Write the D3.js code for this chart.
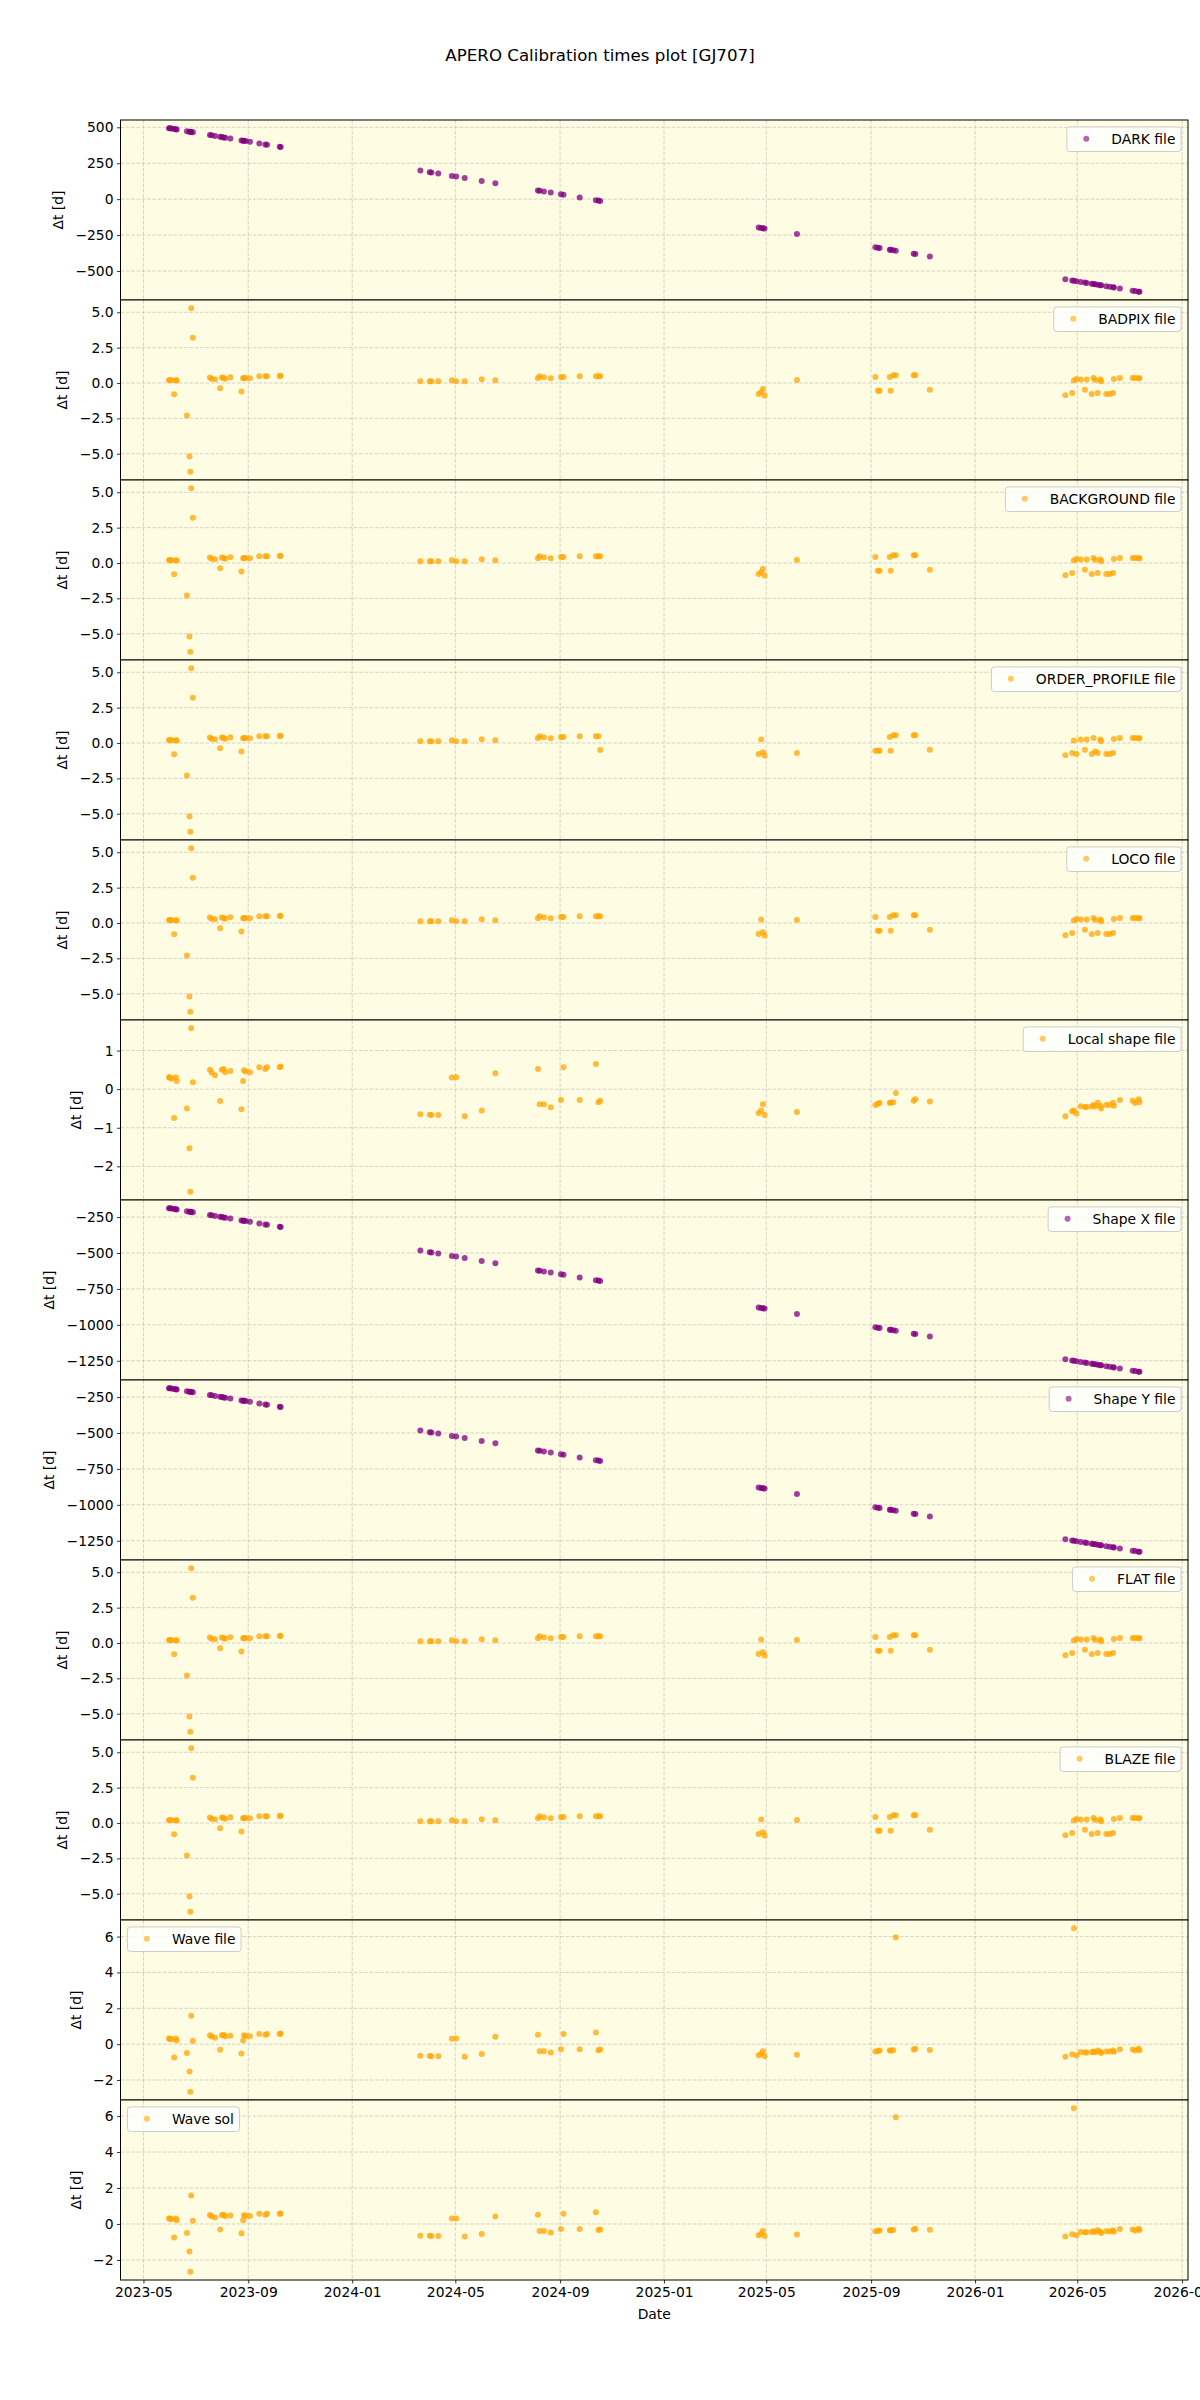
<!DOCTYPE html>
<html><head><meta charset="utf-8">
<script src="https://cdn.jsdelivr.net/npm/d3@7"></script>
<style>
body{margin:0;background:#fff}
svg text{font-family:"DejaVu Sans",sans-serif;fill:#000}
</style>
</head><body>
<svg id="chart" width="1200" height="2400"></svg>
<script>
const chartTitle = "APERO Calibration times plot [GJ707]";
const obsDates = ["2023-05-31","2023-06-01","2023-06-03","2023-06-06","2023-06-08","2023-06-09","2023-06-21","2023-06-24","2023-06-25","2023-06-26","2023-06-28",
"2023-07-18","2023-07-20","2023-07-24","2023-07-30","2023-08-01","2023-08-03","2023-08-05","2023-08-11","2023-08-24","2023-08-26","2023-08-27","2023-08-29","2023-09-03","2023-09-14","2023-09-21","2023-09-23","2023-10-08","2023-10-09",
"2024-03-21","2024-04-01","2024-04-03","2024-04-11","2024-04-27","2024-05-02","2024-05-12","2024-06-01","2024-06-17",
"2024-08-06","2024-08-08","2024-08-13","2024-08-21","2024-09-02","2024-09-05","2024-09-24","2024-10-13","2024-10-16","2024-10-18",
"2025-04-22","2025-04-25","2025-04-27","2025-04-29","2025-06-06",
"2025-09-06","2025-09-09","2025-09-11","2025-09-23","2025-09-24","2025-09-27","2025-09-30","2025-10-21","2025-10-23","2025-11-09",
"2026-04-17","2026-04-25","2026-04-27","2026-04-30","2026-05-05","2026-05-10","2026-05-12","2026-05-18","2026-05-20","2026-05-22","2026-05-25","2026-05-28","2026-05-29","2026-06-04","2026-06-08","2026-06-12","2026-06-13","2026-06-20","2026-07-05","2026-07-08","2026-07-12","2026-07-13"];

const darkValues = [494,493,491,488,486,485,473,470,469,468,466,
446,444,440,434,432,430,428,422,409,407,406,404,399,388,381,379,364,363,
199,188,186,178,162,157,147,127,111,
61,59,54,46,34,31,12,-7,-10,-12,
-198,-201,-203,-205,-243,
-335,-338,-340,-352,-353,-356,-359,-380,-382,-399,
-558,-566,-568,-571,-576,-581,-583,-589,-591,-593,-596,-599,-600,-606,-610,-614,-615,-622,-637,-640,-644,-645];

const badpixValues = [0.20,0.22,0.20,-0.80,0.20,0.18,-2.30,-5.20,-6.28,5.29,3.20,
0.38,0.30,0.26,-0.38,0.38,0.35,0.30,0.40,-0.60,0.33,0.36,0.35,0.33,0.47,0.47,0.48,0.50,0.52,
0.12,0.12,0.12,0.12,0.19,0.12,0.12,0.26,0.19,
0.33,0.47,0.40,0.33,0.42,0.42,0.47,0.47,0.47,0.47,
-0.78,-0.65,-0.43,-0.88,0.21,
0.43,-0.55,-0.55,0.43,-0.55,0.55,0.55,0.55,0.55,-0.48,
-0.86,-0.71,0.17,0.29,0.24,-0.48,0.24,-0.78,0.36,0.21,-0.71,0.24,0.12,-0.78,-0.78,-0.71,0.29,0.36,0.36,0.36,0.33,0.33];

const backgroundValues = [0.20,0.22,0.20,-0.80,0.20,0.18,-2.30,-5.20,-6.28,5.29,3.20,
0.38,0.30,0.26,-0.38,0.38,0.35,0.30,0.40,-0.60,0.33,0.36,0.35,0.33,0.47,0.47,0.48,0.50,0.52,
0.12,0.12,0.12,0.12,0.19,0.12,0.12,0.26,0.19,
0.33,0.47,0.40,0.33,0.42,0.42,0.47,0.47,0.47,0.47,
-0.78,-0.65,-0.43,-0.88,0.21,
0.43,-0.55,-0.55,0.43,-0.55,0.55,0.55,0.55,0.55,-0.48,
-0.86,-0.71,0.17,0.29,0.24,-0.48,0.24,-0.78,0.36,0.21,-0.71,0.24,0.12,-0.78,-0.78,-0.71,0.29,0.36,0.36,0.36,0.33,0.33];

const orderProfileValues = [0.20,0.22,0.20,-0.80,0.20,0.18,-2.30,-5.20,-6.28,5.29,3.20,
0.38,0.30,0.26,-0.38,0.38,0.35,0.30,0.40,-0.60,0.33,0.36,0.35,0.33,0.47,0.47,0.48,0.50,0.52,
0.12,0.12,0.12,0.12,0.19,0.12,0.12,0.26,0.19,
0.33,0.47,0.40,0.33,0.42,0.42,0.47,0.47,0.47,-0.50,
-0.78,0.25,-0.65,-0.88,-0.70,
-0.55,-0.55,-0.55,0.43,-0.55,0.55,0.55,0.55,0.55,-0.48,
-0.86,-0.71,0.17,-0.78,0.24,-0.48,0.24,-0.78,0.36,-0.60,-0.71,0.24,0.12,-0.78,-0.78,-0.71,0.29,0.36,0.36,0.36,0.33,0.33];

const locoValues = [0.20,0.22,0.20,-0.80,0.20,0.18,-2.30,-5.20,-6.28,5.29,3.20,
0.38,0.30,0.26,-0.38,0.38,0.35,0.30,0.40,-0.60,0.33,0.36,0.35,0.33,0.47,0.47,0.48,0.50,0.52,
0.12,0.12,0.12,0.12,0.19,0.12,0.12,0.26,0.19,
0.33,0.47,0.40,0.33,0.42,0.42,0.47,0.47,0.47,0.47,
-0.78,0.25,-0.65,-0.88,0.21,
0.43,-0.55,-0.55,0.43,-0.55,0.55,0.55,0.55,0.55,-0.48,
-0.86,-0.71,0.17,0.29,0.24,-0.48,0.24,-0.78,0.36,0.21,-0.71,0.24,0.12,-0.78,-0.78,-0.71,0.29,0.36,0.36,0.36,0.33,0.33];

const localShapeValues = [0.31,0.30,0.27,-0.75,0.31,0.21,-0.50,-1.53,-2.66,1.58,0.18,
0.50,0.43,0.36,-0.31,0.50,0.52,0.44,0.47,-0.52,0.21,0.49,0.46,0.44,0.57,0.52,0.57,0.57,0.59,
-0.65,-0.66,-0.67,-0.67,0.30,0.31,-0.70,-0.55,0.41,
0.52,-0.39,-0.39,-0.47,-0.28,0.57,-0.28,0.65,-0.34,-0.30,
-0.62,-0.55,-0.39,-0.67,-0.59,
-0.41,-0.38,-0.36,-0.35,-0.35,-0.34,-0.10,-0.30,-0.26,-0.32,
-0.70,-0.57,-0.55,-0.63,-0.44,-0.46,-0.46,-0.45,-0.41,-0.45,-0.35,-0.43,-0.50,-0.41,-0.41,-0.35,-0.43,-0.28,-0.30,-0.36,-0.26,-0.34];

const shapeXValues = [-188,-189,-191,-194,-196,-197,-209,-212,-213,-214,-216,
-236,-238,-242,-248,-250,-252,-254,-260,-273,-275,-276,-278,-283,-294,-301,-303,-318,-319,
-483,-494,-496,-504,-520,-525,-535,-555,-571,
-621,-623,-628,-636,-648,-651,-670,-689,-692,-694,
-880,-883,-885,-887,-925,
-1017,-1020,-1022,-1034,-1035,-1038,-1041,-1062,-1064,-1081,
-1240,-1248,-1250,-1253,-1258,-1263,-1265,-1271,-1273,-1275,-1278,-1281,-1282,-1288,-1292,-1296,-1297,-1304,-1319,-1322,-1326,-1327];

const shapeYValues = [-188,-189,-191,-194,-196,-197,-209,-212,-213,-214,-216,
-236,-238,-242,-248,-250,-252,-254,-260,-273,-275,-276,-278,-283,-294,-301,-303,-318,-319,
-483,-494,-496,-504,-520,-525,-535,-555,-571,
-621,-623,-628,-636,-648,-651,-670,-689,-692,-694,
-880,-883,-885,-887,-925,
-1017,-1020,-1022,-1034,-1035,-1038,-1041,-1062,-1064,-1081,
-1240,-1248,-1250,-1253,-1258,-1263,-1265,-1271,-1273,-1275,-1278,-1281,-1282,-1288,-1292,-1296,-1297,-1304,-1319,-1322,-1326,-1327];

const flatValues = [0.20,0.22,0.20,-0.80,0.20,0.18,-2.30,-5.20,-6.28,5.29,3.20,
0.38,0.30,0.26,-0.38,0.38,0.35,0.30,0.40,-0.60,0.33,0.36,0.35,0.33,0.47,0.47,0.48,0.50,0.52,
0.12,0.12,0.12,0.12,0.19,0.12,0.12,0.26,0.19,
0.33,0.47,0.40,0.33,0.42,0.42,0.47,0.47,0.47,0.47,
-0.78,0.25,-0.65,-0.88,0.21,
0.43,-0.55,-0.55,0.43,-0.55,0.55,0.55,0.55,0.55,-0.48,
-0.86,-0.71,0.17,0.29,0.24,-0.48,0.24,-0.78,0.36,0.21,-0.71,0.24,0.12,-0.78,-0.78,-0.71,0.29,0.36,0.36,0.36,0.33,0.33];

const blazeValues = [0.20,0.22,0.20,-0.80,0.20,0.18,-2.30,-5.20,-6.28,5.29,3.20,
0.38,0.30,0.26,-0.38,0.38,0.35,0.30,0.40,-0.60,0.33,0.36,0.35,0.33,0.47,0.47,0.48,0.50,0.52,
0.12,0.12,0.12,0.12,0.19,0.12,0.12,0.26,0.19,
0.33,0.47,0.40,0.33,0.42,0.42,0.47,0.47,0.47,0.47,
-0.78,0.25,-0.65,-0.88,0.21,
0.43,-0.55,-0.55,0.43,-0.55,0.55,0.55,0.55,0.55,-0.48,
-0.86,-0.71,0.17,0.29,0.24,-0.48,0.24,-0.78,0.36,0.21,-0.71,0.24,0.12,-0.78,-0.78,-0.71,0.29,0.36,0.36,0.36,0.33,0.33];

const waveFileValues = [0.31,0.30,0.27,-0.75,0.31,0.21,-0.50,-1.53,-2.66,1.58,0.18,
0.50,0.43,0.36,-0.31,0.50,0.52,0.44,0.47,-0.52,0.21,0.49,0.46,0.44,0.57,0.52,0.57,0.57,0.59,
-0.65,-0.66,-0.67,-0.67,0.30,0.31,-0.70,-0.55,0.41,
0.52,-0.39,-0.39,-0.47,-0.28,0.57,-0.28,0.65,-0.34,-0.30,
-0.62,-0.55,-0.39,-0.67,-0.59,
-0.41,-0.38,-0.36,-0.35,-0.35,-0.34,5.96,-0.30,-0.26,-0.32,
-0.70,-0.57,6.47,-0.63,-0.44,-0.46,-0.46,-0.45,-0.41,-0.45,-0.35,-0.43,-0.50,-0.41,-0.41,-0.35,-0.43,-0.28,-0.30,-0.36,-0.26,-0.34];

const waveSolValues = [0.31,0.30,0.27,-0.75,0.31,0.21,-0.50,-1.53,-2.66,1.58,0.18,
0.50,0.43,0.36,-0.31,0.50,0.52,0.44,0.47,-0.52,0.21,0.49,0.46,0.44,0.57,0.52,0.57,0.57,0.59,
-0.65,-0.66,-0.67,-0.67,0.30,0.31,-0.70,-0.55,0.41,
0.52,-0.39,-0.39,-0.47,-0.28,0.57,-0.28,0.65,-0.34,-0.30,
-0.62,-0.55,-0.39,-0.67,-0.59,
-0.41,-0.38,-0.36,-0.35,-0.35,-0.34,5.94,-0.30,-0.26,-0.32,
-0.70,-0.57,6.44,-0.63,-0.44,-0.46,-0.46,-0.45,-0.41,-0.45,-0.35,-0.43,-0.50,-0.41,-0.41,-0.35,-0.43,-0.28,-0.30,-0.36,-0.26,-0.34];

const panelLabels = ["DARK file","BADPIX file","BACKGROUND file","ORDER_PROFILE file","LOCO file","Local shape file","Shape X file","Shape Y file","FLAT file","BLAZE file","Wave file","Wave sol"];
const panelSeries = [darkValues,badpixValues,backgroundValues,orderProfileValues,locoValues,localShapeValues,shapeXValues,shapeYValues,flatValues,blazeValues,waveFileValues,waveSolValues];
const panelColors = ["purple","orange","orange","orange","orange","orange","purple","purple","orange","orange","orange","orange"];
const panelLegendSide = ["right","right","right","right","right","right","right","right","right","right","left","left"];

const darkTicks = [-500,-250,0,250,500];
const calTicks = [-5,-2.5,0,2.5,5];
const localShapeTicks = [-2,-1,0,1];
const shapeTicks = [-1250,-1000,-750,-500,-250];
const waveTicks = [-2,0,2,4,6];
const panelTicks = [darkTicks,calTicks,calTicks,calTicks,calTicks,localShapeTicks,shapeTicks,shapeTicks,calTicks,calTicks,waveTicks,waveTicks];
const panelTickFormat = [".0f",".1f",".1f",".1f",".1f",".0f",".0f",".0f",".1f",".1f",".0f",".0f"];

const xTickLabels = ["2023-05","2023-09","2024-01","2024-05","2024-09","2025-01","2025-05","2025-09","2026-01","2026-05","2026-09"];
const yAxisLabel = "Δt [d]";
const xAxisLabel = "Date";

(function draw() {
  const W = 1200, H = 2400;
  const mL = 120.5, mR = 1188, mT = 120, mB = 2280;
  const nP = panelLabels.length;
  const ph = (mB - mT) / nP;
  const FS = 13.89;
  const bgColor = "#fefce2";

  const svg = d3.select("#chart");
  svg.append("rect").attr("width", W).attr("height", H).attr("fill", "#fff");

  const parse = d3.utcParse("%Y-%m-%d");
  const dates = obsDates.map(parse);
  const ext = d3.extent(dates);
  const span = ext[1] - ext[0];
  const x = d3.scaleUtc()
    .domain([new Date(+ext[0] - 0.05 * span), new Date(+ext[1] + 0.05 * span)])
    .range([mL, mR]);
  const xTickDates = xTickLabels.map(s => parse(s + "-01"));
  const xFmt = d3.utcFormat("%Y-%m");

  svg.append("text").attr("x", 600).attr("y", 61).attr("text-anchor", "middle")
    .style("font-size", "16.67px").text(chartTitle);

  panelLabels.forEach((label, i) => {
    const py = mT + i * ph;
    const vals = panelSeries[i];
    const pts = dates.map((d, k) => ({d, v: vals[k]})).filter(p => p.v !== null && p.v !== undefined);
    const [mn, mx] = d3.extent(pts, p => p.v);
    const r = mx - mn;
    const y = d3.scaleLinear().domain([mn - 0.05 * r, mx + 0.05 * r]).range([py + ph, py]);
    const g = svg.append("g");

    g.append("rect").attr("x", mL).attr("y", py).attr("width", mR - mL).attr("height", ph)
      .attr("fill", bgColor);

    const clipId = "clip" + i;
    g.append("clipPath").attr("id", clipId).append("rect")
      .attr("x", mL).attr("y", py).attr("width", mR - mL).attr("height", ph);

    const grid = g.append("g").attr("clip-path", `url(#${clipId})`);
    grid.selectAll("line.vx").data(xTickDates).join("line")
      .attr("x1", d => x(d)).attr("x2", d => x(d)).attr("y1", py).attr("y2", py + ph)
      .attr("stroke", "#b0b0b0").attr("stroke-opacity", 0.65).attr("stroke-width", 0.8).attr("stroke-dasharray", "3.7,1.6");
    grid.selectAll("line.hy").data(panelTicks[i]).join("line")
      .attr("x1", mL).attr("x2", mR).attr("y1", d => y(d)).attr("y2", d => y(d))
      .attr("stroke", "#b0b0b0").attr("stroke-opacity", 0.65).attr("stroke-width", 0.8).attr("stroke-dasharray", "3.7,1.6");

    g.append("g").attr("clip-path", `url(#${clipId})`)
      .selectAll("circle").data(pts).join("circle")
      .attr("cx", p => x(p.d)).attr("cy", p => y(p.v)).attr("r", 3)
      .attr("fill", panelColors[i]).attr("fill-opacity", 0.75);

    const fmt = d3.format(panelTickFormat[i]);
    const yAxis = g.append("g").attr("transform", `translate(${mL},0)`)
      .call(d3.axisLeft(y).tickValues(panelTicks[i]).tickFormat(fmt).tickSize(3.5).tickPadding(3.5));
    yAxis.select(".domain").remove();
    yAxis.selectAll(".tick line").attr("stroke", "#000").attr("stroke-width", 0.8);
    yAxis.selectAll(".tick text").style("font-size", FS + "px").style("font-family", "DejaVu Sans").attr("fill", "#000");
    let minX = 1e9;
    yAxis.selectAll(".tick text").each(function() {
      const b = this.getBBox();
      minX = Math.min(minX, mL + b.x);
    });
    g.append("text").attr("transform", `translate(${minX - 12.5},${py + ph / 2}) rotate(-90)`)
      .attr("text-anchor", "middle").style("font-size", FS + "px").text(yAxisLabel);

    g.append("rect").attr("x", mL).attr("y", py).attr("width", mR - mL).attr("height", ph)
      .attr("fill", "none").attr("stroke", "#000").attr("stroke-width", 1);

    const lg = g.append("g");
    const tmp = lg.append("text").style("font-size", FS + "px").text(label);
    const tw = tmp.node().getComputedTextLength();
    tmp.remove();
    const bw = 0.4 * FS + 2 * FS + 0.8 * FS + tw + 0.4 * FS;
    const bh = 24.6;
    const bx = panelLegendSide[i] === "right" ? mR - 0.5 * FS - bw : mL + 0.5 * FS;
    const by = py + 0.5 * FS;
    lg.append("rect").attr("x", bx).attr("y", by).attr("width", bw).attr("height", bh)
      .attr("rx", 3).attr("fill", "#fff").attr("fill-opacity", 0.8).attr("stroke", "#cccccc").attr("stroke-width", 1);
    lg.append("circle").attr("cx", bx + 0.4 * FS + FS).attr("cy", by + bh / 2 - 0.5).attr("r", 3)
      .attr("fill", panelColors[i]).attr("fill-opacity", 0.6);
    lg.append("text").attr("x", bx + 0.4 * FS + 2.8 * FS).attr("y", by + bh / 2 + 4.8)
      .style("font-size", FS + "px").text(label);

    if (i === nP - 1) {
      const xAxis = g.append("g").attr("transform", `translate(0,${py + ph})`)
        .call(d3.axisBottom(x).tickValues(xTickDates).tickFormat(xFmt).tickSize(3.5).tickPadding(3.5));
      xAxis.select(".domain").remove();
      xAxis.selectAll(".tick line").attr("stroke", "#000").attr("stroke-width", 0.8);
      xAxis.selectAll(".tick text").style("font-size", FS + "px").style("font-family", "DejaVu Sans").attr("fill", "#000");
      svg.append("text").attr("x", (mL + mR) / 2).attr("y", mB + 39)
        .attr("text-anchor", "middle").style("font-size", FS + "px").text(xAxisLabel);
    }
  });
})();
</script>
</body></html>
